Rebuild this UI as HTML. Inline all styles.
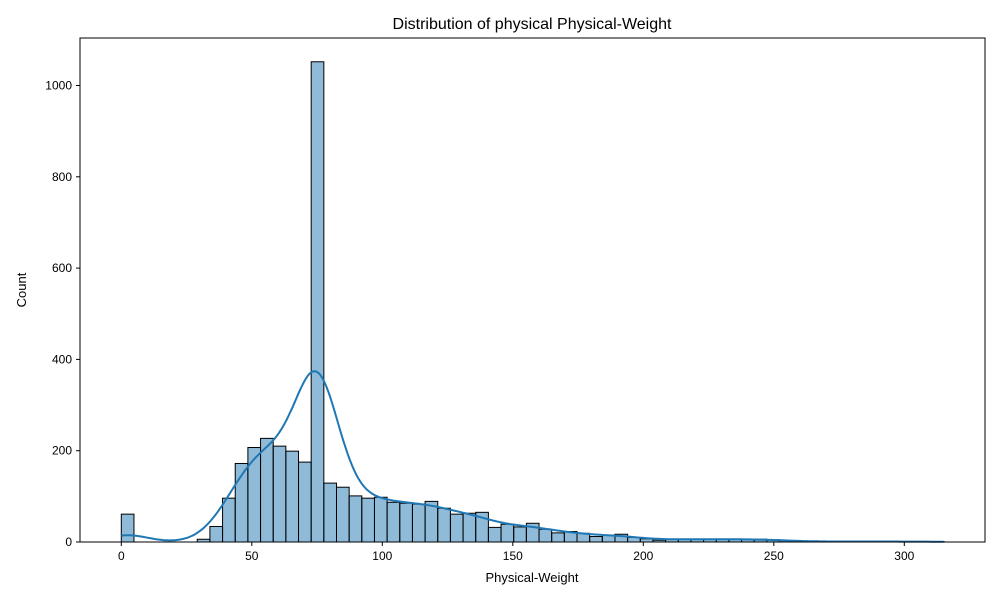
<!DOCTYPE html>
<html><head><meta charset="utf-8"><style>
body{margin:0;background:#fff;font-family:"Liberation Sans",sans-serif;}
svg text{font-family:"Liberation Sans",sans-serif;fill:#000;}
</style></head><body>
<svg id="chart" width="1000" height="600" xmlns="http://www.w3.org/2000/svg">
<text x="532" y="29" font-size="16" text-anchor="middle">Distribution of physical Physical-Weight</text>
<g id="bars"></g>
<path id="kde" fill="none" stroke="#1f77b4" stroke-width="2"></path>
<rect x="80" y="38" width="905" height="504" fill="none" stroke="#000" stroke-width="1"/>
<g id="xt"></g>
<g id="yt"></g>
<text x="532" y="582" font-size="13" text-anchor="middle">Physical-Weight</text>
<text x="26" y="290" font-size="13" text-anchor="middle" transform="rotate(-90 26 290)">Count</text>
</svg>
<script>
const binStart = 0;
const binWidth = 4.85;
const counts = [61,0,0,0,0,0,6,34,96,172,207,227,210,199,175,1052,129,120,101,96,98,87,85,83,89,74,61,63,65,32,39,33,41,28,20,23,19,12,15,17,10,7,4,6,6,6,6,6,6,6,6,5,3,2,1,1,1,1,1,1,1,1,1,1,1];
const xTicks = [0,50,100,150,200,250,300];
const yTicks = [0,200,400,600,800,1000];
const NS="http://www.w3.org/2000/svg";
const X = v => 121.3 + v*2.61;
const Y = c => 542 - c*0.4565;
const bars=document.getElementById('bars');
counts.forEach((c,i)=>{
  if(c<=0) return;
  const r=document.createElementNS(NS,'rect');
  
  
  const x0=X(binStart+i*binWidth), x1=X(binStart+(i+1)*binWidth);
  r.setAttribute('x',x0);r.setAttribute('width',x1-x0);
  r.setAttribute('y',Y(c));r.setAttribute('height',Y(0)-Y(c));
  r.setAttribute('fill','rgba(31,119,180,0.5)');r.setAttribute('stroke','#000');r.setAttribute('stroke-width','1');
  bars.appendChild(r);
});
const h=8;
let pts=[];
const xmax=binStart+counts.length*binWidth;
for(let v=0;v<=xmax;v+=0.5){
  let s=0;
  counts.forEach((c,i)=>{const m=binStart+(i+0.5)*binWidth;const z=(v-m)/h;s+=c*Math.exp(-0.5*z*z);});
  const d=s/(h*Math.sqrt(2*Math.PI))*binWidth;
  pts.push((pts.length?'L':'M')+X(v).toFixed(1)+','+Y(d).toFixed(1));
}
document.getElementById('kde').setAttribute('d',pts.join(''));
const xt=document.getElementById('xt');
xTicks.forEach(t=>{
  const l=document.createElementNS(NS,'line');
  
  
  l.setAttribute('x1',X(t));l.setAttribute('x2',X(t));l.setAttribute('y1',542);l.setAttribute('y2',546);l.setAttribute('stroke','#000');
  xt.appendChild(l);
  const tx=document.createElementNS(NS,'text');
  
  
  tx.setAttribute('x',X(t));tx.setAttribute('y',560);tx.setAttribute('font-size','12');tx.setAttribute('text-anchor','middle');
  tx.textContent=t;xt.appendChild(tx);
});
const yt=document.getElementById('yt');
yTicks.forEach(t=>{
  const l=document.createElementNS(NS,'line');
  
  
  l.setAttribute('x1',76);l.setAttribute('x2',80);l.setAttribute('y1',Y(t));l.setAttribute('y2',Y(t));l.setAttribute('stroke','#000');
  yt.appendChild(l);
  const tx=document.createElementNS(NS,'text');
  
  
  tx.setAttribute('x',72);tx.setAttribute('y',Y(t)+4);tx.setAttribute('font-size','12');tx.setAttribute('text-anchor','end');
  tx.textContent=t;yt.appendChild(tx);
});
</script>
</body></html>
